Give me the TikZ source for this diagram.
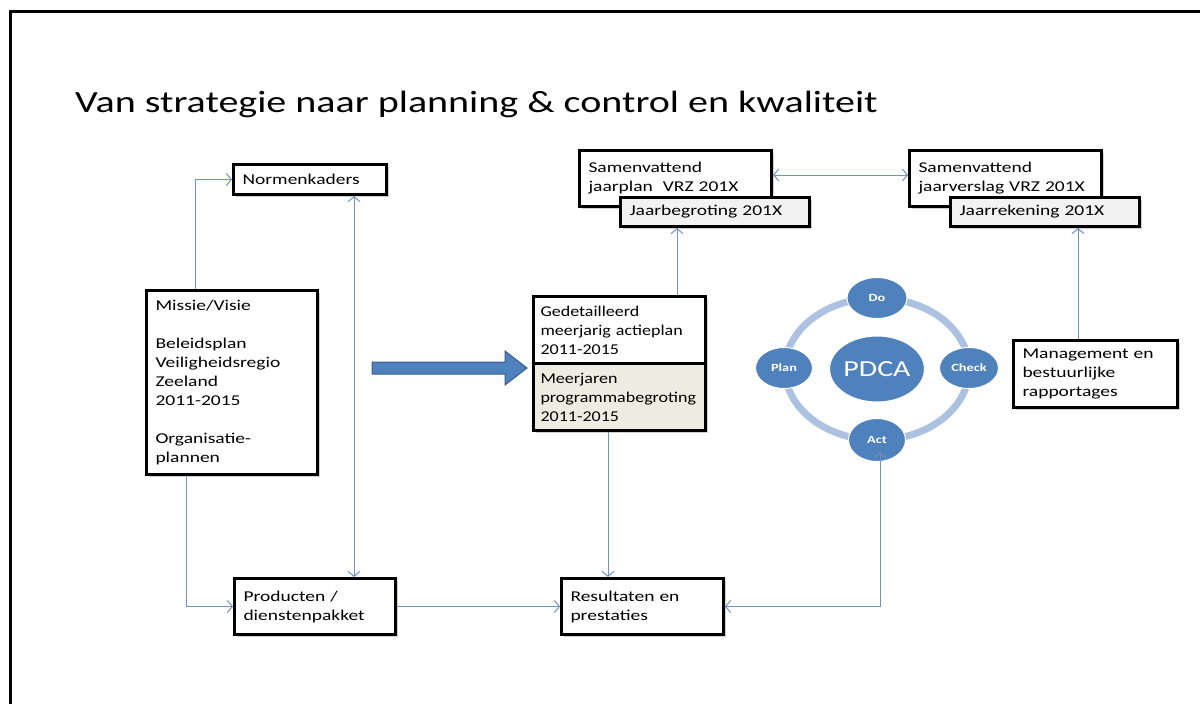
\documentclass[tikz,border=0pt]{standalone}
\usepackage{fontspec}
\setmainfont{Carlito}[FakeStretch=1.3]
\newfontfamily\narrowfont{Carlito}[FakeStretch=1.2]
\hyphenpenalty=10000
\exhyphenpenalty=10000
\usetikzlibrary{arrows.meta,shapes.geometric,shadows}
\definecolor{conn}{RGB}{110,146,196}
\definecolor{pblue}{RGB}{79,129,189}
\definecolor{pdark}{RGB}{56,93,138}
\definecolor{ring}{RGB}{172,194,224}
\definecolor{beige}{RGB}{238,236,225}
\definecolor{lgray}{RGB}{242,242,242}
\tikzset{
  boxstyle/.style={draw=black, line width=3pt, fill=white, anchor=north west,
    align=left, inner xsep=9pt, inner ysep=3pt,
    font=\fontsize{15}{19}\selectfont,
    drop shadow={shadow xshift=2pt, shadow yshift=-2pt, opacity=0.3, fill=black!60}},
  conline/.style={draw=conn, line width=1pt},
  tip/.style={-{Straight Barb[length=5pt,width=12pt,line width=1pt]}},
  bothtip/.style={{Straight Barb[length=5pt,width=12pt,line width=1pt]}-{Straight Barb[length=5pt,width=12pt,line width=1pt]}},
  pcirc/.style={ellipse, fill=pblue, draw=white, line width=1pt, text=white, inner sep=0pt,
    font=\bfseries\fontsize{11}{13}\selectfont},
}
\begin{document}
\begin{tikzpicture}[x=1pt,y=-1pt]
\useasboundingbox (0,0) rectangle (1200,704);
% frame
\draw[line width=3pt] (10,704) -- (10,11) -- (1200,11);
% title
\node[anchor=base west, inner sep=0pt, font=\fontsize{30.8}{36}\selectfont] (title) at (75,112) {Van strategie naar planning \& control en kwaliteit};

% boxes
\node[boxstyle, minimum width=153pt, minimum height=30pt, text width=135pt] (norm) at (232,163) {Normenkaders};
\node[boxstyle, minimum width=171pt, minimum height=184pt, text width=153pt] (missie) at (145,289)
  {Missie/Visie\\[19pt]Beleidsplan\\Veiligheidsregio\\Zeeland\\2011-2015\\[19pt]Organisatie-\\plannen};
\node[boxstyle, minimum width=161pt, minimum height=56pt, text width=143pt] (prod) at (233,577) {Producten /\\dienstenpakket};
\node[boxstyle, minimum width=162pt, minimum height=56pt, text width=144pt] (res) at (560,577) {Resultaten en\\prestaties};
\node[boxstyle, minimum width=172pt, minimum height=67pt, text width=158pt, inner xsep=7pt, font=\narrowfont\fontsize{15}{19}\selectfont] (midtop) at (532,295) {Gedetailleerd\\meerjarig actieplan\\2011-2015};
\node[boxstyle, fill=beige, minimum width=172pt, minimum height=67pt, text width=158pt, inner xsep=7pt, font=\narrowfont\fontsize{15}{19}\selectfont] (midbot) at (532,362) {Meerjaren\\programmabegroting\\2011-2015};
\node[boxstyle, minimum width=192pt, minimum height=56pt, text width=174pt] (sjp) at (578,149) {Samenvattend\\jaarplan~~VRZ 201X\\[6pt]};
\node[boxstyle, fill=lgray, minimum width=189pt, minimum height=29pt, text width=171pt] (jb) at (619,196) {Jaarbegroting 201X};
\node[boxstyle, minimum width=192pt, minimum height=56pt, text width=174pt] (sjv) at (908,149) {Samenvattend\\jaarverslag VRZ 201X\\[6pt]};
\node[boxstyle, fill=lgray, minimum width=189pt, minimum height=29pt, text width=171pt] (jr) at (949,196) {Jaarrekening 201X};
\node[boxstyle, minimum width=164pt, minimum height=67pt, text width=146pt] (mgmt) at (1012,339) {Management en\\bestuurlijke\\rapportages};

% big arrow
\draw[fill=pblue, draw=pdark, line width=1pt] (372,362) -- (505,362) -- (505,351) -- (527,368) -- (505,385) -- (505,374) -- (372,374) -- cycle;

% PDCA
\draw[ring, line width=7pt] (877,369) ellipse [x radius=92pt, y radius=71pt];
\node[pcirc, minimum width=84pt, minimum height=66pt, font=\fontsize{23}{27}\selectfont] (pdca) at (877,369) {PDCA};
\node[pcirc, minimum width=60pt, minimum height=41pt] (do) at (877,298) {Do};
\node[pcirc, minimum width=57pt, minimum height=41pt] (plan) at (784,368) {Plan};
\node[pcirc, minimum width=59pt, minimum height=41pt] (check) at (969,368) {Check};
\node[pcirc, minimum width=57pt, minimum height=43pt] (act) at (877,440) {Act};

% connectors
\draw[conline, tip] (missie.north -| 195,0) |- (norm.west);
\draw[conline, tip] (missie.south -| 186,0) |- (prod.west);
\draw[conline, bothtip] (norm.south -| 354,0) -- (prod.north -| 354,0);
\draw[conline, tip] (midtop.north -| 677,0) -- (jb.south -| 677,0);
\draw[conline, tip] (midbot.south -| 608,0) -- (res.north -| 608,0);
\draw[conline, tip] (prod.east) -- (res.west);
\coordinate (actb) at (880,452);
\draw[conline, bothtip] (actb) |- (res.east);
\draw[conline, bothtip] (sjp.east |- 0,175) -- (sjv.west |- 0,175);
\draw[conline, tip] (mgmt.north -| 1078,0) -- (jr.south -| 1078,0);
\end{tikzpicture}
\end{document}
